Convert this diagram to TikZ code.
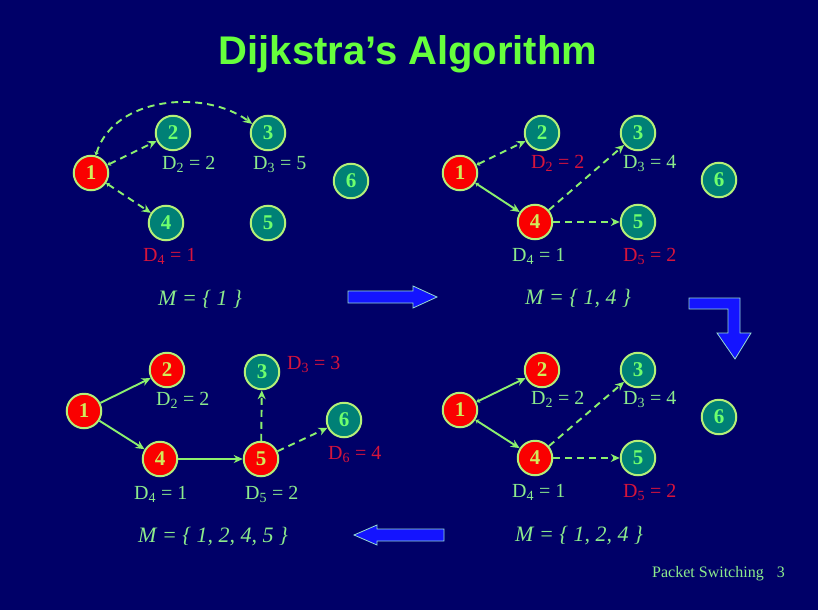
\documentclass[tikz,border=0pt]{standalone}
\usepackage{fontspec}
\setmainfont{Liberation Serif}
\newfontfamily\headfont{Liberation Sans}
\usetikzlibrary{arrows.meta}

\definecolor{slidebg}{RGB}{0,0,104}
\definecolor{headgreen}{RGB}{102,255,60}
\definecolor{ringcol}{RGB}{180,240,120}
\definecolor{tealfill}{RGB}{0,128,118}
\definecolor{tealnum}{RGB}{110,255,110}
\definecolor{redfill}{RGB}{250,0,0}
\definecolor{rednum}{RGB}{210,235,90}
\definecolor{lblgreen}{RGB}{140,235,140}
\definecolor{lblred}{RGB}{215,20,60}
\definecolor{edgecol}{RGB}{140,240,110}
\definecolor{barrow}{RGB}{20,20,255}
\definecolor{barrowline}{RGB}{150,220,210}

\tikzset{
  vtx/.style={circle, minimum size=34.5pt, inner sep=0pt, draw=ringcol, line width=2pt,
              font=\fontsize{21}{21}\selectfont\bfseries},
  open/.style={vtx, fill=tealfill, text=tealnum},
  done/.style={vtx, fill=redfill, text=rednum},
  dlab/.style={anchor=base west, inner sep=0pt, font=\fontsize{20}{20}\selectfont, text=lblgreen},
  dlabr/.style={dlab, text=lblred},
  mset/.style={anchor=base west, inner sep=0pt, font=\fontsize{22}{22}\selectfont\itshape, text=lblgreen},
  tree/.style={draw=edgecol, line width=1.9pt, -{Stealth[length=9pt,width=8pt]}},
  cand/.style={tree, dash pattern=on 7pt off 5pt},
  fromsrc/.style={{Stealth[length=3.5pt,width=5pt]}-{Stealth[length=9pt,width=8pt]}},
  blockarrow/.style={fill=barrow, draw=barrowline, line width=0.8pt},
}

\newcommand{\Dsub}[2]{D\textsubscript{#1} = #2}

\begin{document}
\begin{tikzpicture}[x=1pt, y=-1pt]
  % slide background
  \fill[slidebg] (0,0) rectangle (818,610);
  \useasboundingbox (0,0) rectangle (818,610);

  % heading
  \node[anchor=base, inner sep=0pt, text=headgreen,
        font=\headfont\bfseries\fontsize{40}{40}\selectfont] (title) at (408,64) {Dijkstra’s Algorithm};

  % ---- step 1: M = {1} ----
  \node[done] (a1) at (91,173) {1};
  \node[open] (a2) at (173,133) {2};
  \node[open] (a3) at (268,133) {3};
  \node[open] (a6) at (351,181) {6};
  \node[open] (a4) at (166,223) {4};
  \node[open] (a5) at (268,223) {5};
  \draw[cand, fromsrc] (a1) -- (a2);
  \draw[cand, fromsrc] (a1) -- (a4);
  \draw[cand, fromsrc] (a1.75) .. controls (114,96) and (205,89) .. (a3.150);
  \node[dlab] (a2d) at (162,169) {\Dsub{2}{2}};
  \node[dlab] (a3d) at (253,169) {\Dsub{3}{5}};
  \node[dlabr] (a4d) at (143,261) {\Dsub{4}{1}};
  \node[mset] (am) at (158,305) {M = \{ 1 \}};

  % ---- step 2: M = {1, 4} ----
  \node[done] (b1) at (460,173) {1};
  \node[open] (b2) at (542,133) {2};
  \node[open] (b3) at (638,133) {3};
  \node[open] (b6) at (719,180) {6};
  \node[done] (b4) at (535,222) {4};
  \node[open] (b5) at (638,222) {5};
  \draw[cand, fromsrc] (b1) -- (b2);
  \draw[tree, fromsrc] (b1) -- (b4);
  \draw[cand] (b4) -- (b3);
  \draw[cand] (b4) -- (b5);
  \node[dlabr] (b2d) at (531,168) {\Dsub{2}{2}};
  \node[dlab] (b3d) at (623,168) {\Dsub{3}{4}};
  \node[dlab] (b4d) at (512,261) {\Dsub{4}{1}};
  \node[dlabr] (b5d) at (623,261) {\Dsub{5}{2}};
  \node[mset] (bm) at (525,304) {M = \{ 1, 4 \}};

  % ---- step 3: M = {1, 2, 4} ----
  \node[done] (c1) at (460,410) {1};
  \node[done] (c2) at (542,370) {2};
  \node[open] (c3) at (638,370) {3};
  \node[open] (c6) at (719,417) {6};
  \node[done] (c4) at (535,458) {4};
  \node[open] (c5) at (638,458) {5};
  \draw[tree, fromsrc] (c1) -- (c2);
  \draw[tree, fromsrc] (c1) -- (c4);
  \draw[cand] (c4) -- (c3);
  \draw[cand] (c4) -- (c5);
  \node[dlab] (c2d) at (531,404) {\Dsub{2}{2}};
  \node[dlab] (c3d) at (623,404) {\Dsub{3}{4}};
  \node[dlab] (c4d) at (512,497) {\Dsub{4}{1}};
  \node[dlabr] (c5d) at (623,497) {\Dsub{5}{2}};
  \node[mset] (cm) at (515,541) {M = \{ 1, 2, 4 \}};

  % ---- step 4: M = {1, 2, 4, 5} ----
  \node[done] (d1) at (84,411) {1};
  \node[done] (d2) at (167,370) {2};
  \node[open] (d3) at (262,372) {3};
  \node[open] (d6) at (344,420) {6};
  \node[done] (d4) at (160,459) {4};
  \node[done] (d5) at (261,459) {5};
  \draw[tree] (d1) -- (d2);
  \draw[tree] (d1) -- (d4);
  \draw[tree] (d4) -- (d5);
  \draw[cand] (d5) -- (d3);
  \draw[cand] (d5) -- (d6);
  \node[dlab] (d2d) at (156,405) {\Dsub{2}{2}};
  \node[dlabr] (d3d) at (287,369) {\Dsub{3}{3}};
  \node[dlabr] (d6d) at (328,459) {\Dsub{6}{4}};
  \node[dlab] (d4d) at (134,499) {\Dsub{4}{1}};
  \node[dlab] (d5d) at (245,499) {\Dsub{5}{2}};
  \node[mset] (dm) at (138,542) {M = \{ 1, 2, 4, 5 \}};

  % block arrows showing the order of the steps
  \filldraw[blockarrow] (348,291) -- (413,291) -- (413,286) -- (437,297)
      -- (413,308) -- (413,303) -- (348,303) -- cycle;
  \filldraw[blockarrow] (689,298) -- (740,298) -- (740,333) -- (751,333)
      -- (735,359) -- (717,333) -- (728,333) -- (728,309) -- (689,309) -- cycle;
  \filldraw[blockarrow] (444,529) -- (377,529) -- (377,525) -- (354,535)
      -- (377,545) -- (377,541) -- (444,541) -- cycle;

  % footer
  \node[anchor=base west, inner sep=0pt, text=lblgreen, font=\fontsize{16}{16}\selectfont]
      (foot) at (652,577) {Packet Switching\hspace{13pt}3};
\end{tikzpicture}
\end{document}
